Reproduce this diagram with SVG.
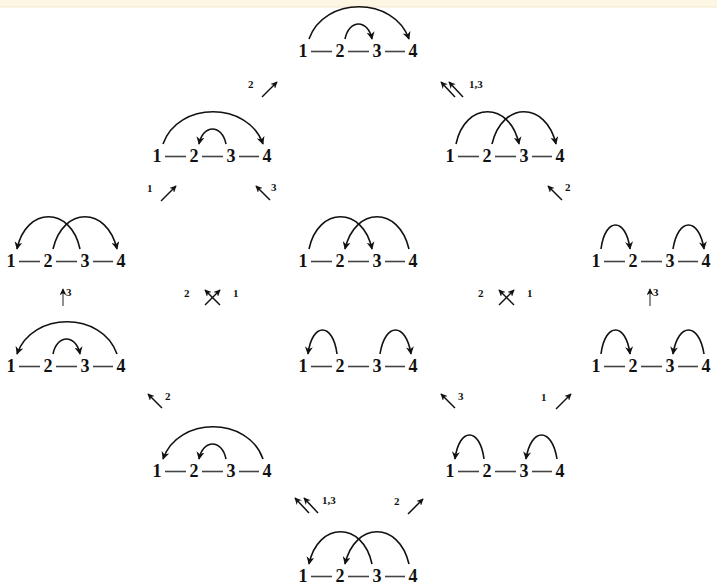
<svg xmlns="http://www.w3.org/2000/svg" width="717" height="585" viewBox="0 0 717 585">
<style>
.d{font-family:"Liberation Serif","DejaVu Serif",serif;font-weight:bold;font-size:18px;fill:#111;text-anchor:middle}
.l{font-family:"Liberation Serif","DejaVu Serif",serif;font-weight:bold;font-size:11px;fill:#111}
.dash{stroke:#444;stroke-width:1.6}
.arc{fill:none;stroke:#111;stroke-width:1.6;marker-end:url(#ah)}
.con{fill:none;stroke:#111;stroke-width:1.5;marker-end:url(#sh)}
.vcon{fill:none;stroke:#555;stroke-width:1.3;marker-end:url(#sh)}
</style>
<defs>
<marker id="ah" viewBox="0 0 10 10" refX="9" refY="5" markerWidth="8" markerHeight="8" markerUnits="userSpaceOnUse" orient="auto">
<path d="M0,0 L10,5 L0,10 L3,5 z" fill="#111"/>
</marker>
<marker id="sh" viewBox="0 0 10 10" refX="9" refY="5" markerWidth="7" markerHeight="7" markerUnits="userSpaceOnUse" orient="auto">
<path d="M0,0 L10,5 L0,10 L3,5 z" fill="#111"/>
</marker>
<g id="base">
<line class="dash" x1="-47" y1="-5.5" x2="-26" y2="-5.5"/>
<line class="dash" x1="-10" y1="-5.5" x2="11" y2="-5.5"/>
<line class="dash" x1="27" y1="-5.5" x2="47" y2="-5.5"/>
<text class="d" x="-55" y="0">1</text>
<text class="d" x="-18" y="0">2</text>
<text class="d" x="19" y="0">3</text>
<text class="d" x="55" y="0">4</text>
</g>
</defs>
<rect x="0" y="0" width="717" height="7" fill="#fdf6e3"/>
<line x1="0" y1="7" x2="717" y2="7" stroke="#f1e7cf" stroke-width="1"/>

<g id="n1"><use href="#base" x="358" y="57"/>
<path class="arc" d="M309,39 C324,-4 394,-4 409,39"/>
<path class="arc" d="M345,39 C349,19 368,19 372,39"/></g>

<g id="n2a"><use href="#base" x="212" y="162"/>
<path class="arc" d="M163,144 C178,101 248,101 263,144"/>
<path class="arc" d="M226,144 C222,124 203,124 199,144"/></g>

<g id="n2b"><use href="#base" x="505" y="162"/>
<path class="arc" d="M456,144 C465,101 510,101 519,144"/>
<path class="arc" d="M492,144 C502,101 546,101 556,144"/></g>

<g id="n3a"><use href="#base" x="66" y="267"/>
<path class="arc" d="M80,249 C71,206 26,206 17,249"/>
<path class="arc" d="M53,249 C63,206 107,206 117,249"/></g>

<g id="n3b"><use href="#base" x="358" y="267"/>
<path class="arc" d="M309,249 C318,206 363,206 372,249"/>
<path class="arc" d="M409,249 C399,206 355,206 345,249"/></g>

<g id="n3c"><use href="#base" x="651" y="267"/>
<path class="arc" d="M601,249 C605,217 626,217 630,249"/>
<path class="arc" d="M673,249 C678,217 699,217 704,249"/></g>

<g id="n4a"><use href="#base" x="66" y="372"/>
<path class="arc" d="M117,354 C102,311 32,311 17,354"/>
<path class="arc" d="M53,354 C57,334 76,334 80,354"/></g>

<g id="n4b"><use href="#base" x="358" y="372"/>
<path class="arc" d="M337,354 C333,322 312,322 308,354"/>
<path class="arc" d="M380,354 C385,322 406,322 411,354"/></g>

<g id="n4c"><use href="#base" x="651" y="372"/>
<path class="arc" d="M601,354 C605,322 626,322 630,354"/>
<path class="arc" d="M704,354 C699,322 678,322 673,354"/></g>

<g id="n5a"><use href="#base" x="212" y="477"/>
<path class="arc" d="M263,459 C248,416 178,416 163,459"/>
<path class="arc" d="M226,459 C222,439 203,439 199,459"/></g>

<g id="n5b"><use href="#base" x="505" y="477"/>
<path class="arc" d="M484,459 C480,427 459,427 455,459"/>
<path class="arc" d="M557,459 C552,427 531,427 526,459"/></g>

<g id="n6"><use href="#base" x="358" y="582"/>
<path class="arc" d="M372,564 C363,521 318,521 309,564"/>
<path class="arc" d="M409,564 C399,521 355,521 345,564"/></g>

<g id="connectors">
<text class="l" x="248" y="88">2</text>
<line class="con" x1="262" y1="97" x2="277" y2="82"/>
<line class="con" x1="455" y1="97" x2="441" y2="82"/>
<line class="con" x1="463" y1="97" x2="449" y2="82"/>
<text class="l" x="469" y="88">1,3</text>

<text class="l" x="147" y="192">1</text>
<line class="con" x1="161" y1="201" x2="176" y2="186"/>
<line class="con" x1="270" y1="200" x2="256" y2="186"/>
<text class="l" x="271" y="191">3</text>
<line class="con" x1="562" y1="200" x2="548" y2="186"/>
<text class="l" x="565" y="191">2</text>

<line class="vcon" x1="63" y1="306" x2="63" y2="289"/>
<text class="l" x="66" y="296">3</text>
<text class="l" x="184" y="297">2</text>
<line class="con" x1="205" y1="305" x2="220" y2="290"/>
<line class="con" x1="220" y1="305" x2="205" y2="290"/>
<text class="l" x="233" y="297">1</text>
<text class="l" x="478" y="297">2</text>
<line class="con" x1="499" y1="305" x2="514" y2="290"/>
<line class="con" x1="514" y1="305" x2="499" y2="290"/>
<text class="l" x="527" y="297">1</text>
<line class="vcon" x1="650" y1="306" x2="650" y2="289"/>
<text class="l" x="653" y="296">3</text>

<line class="con" x1="162" y1="408" x2="148" y2="394"/>
<text class="l" x="165" y="400">2</text>
<line class="con" x1="455" y1="408" x2="441" y2="394"/>
<text class="l" x="458" y="400">3</text>
<text class="l" x="541" y="401">1</text>
<line class="con" x1="556" y1="409" x2="571" y2="394"/>

<line class="con" x1="309" y1="513" x2="295" y2="498"/>
<line class="con" x1="318" y1="513" x2="304" y2="498"/>
<text class="l" x="322" y="504">1,3</text>
<text class="l" x="394" y="505">2</text>
<line class="con" x1="408" y1="514" x2="423" y2="499"/>
</g>
</svg>
